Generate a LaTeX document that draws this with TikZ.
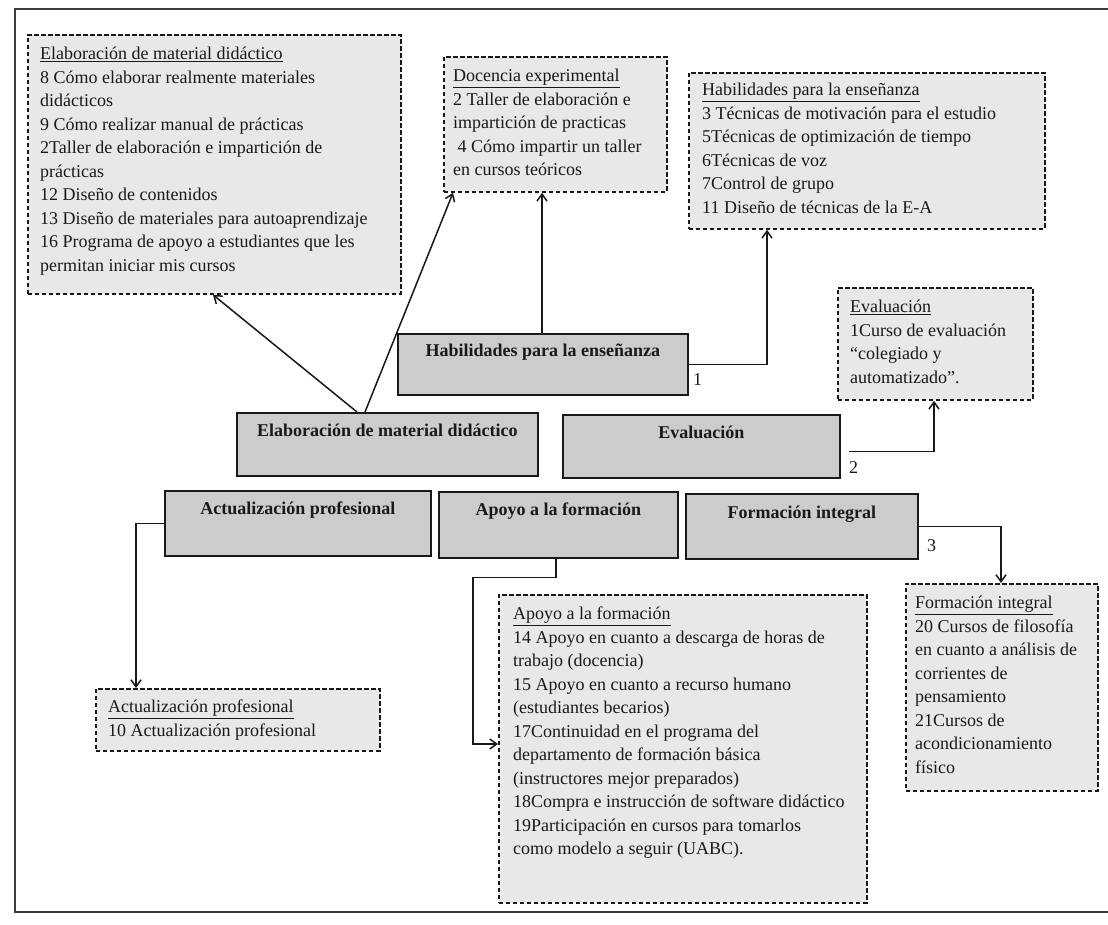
\documentclass[tikz,border=0pt]{standalone}
\usepackage{fontspec}
\setmainfont{Liberation Serif}
\usetikzlibrary{arrows.meta,calc}
\definecolor{boxgray}{RGB}{204,204,204}
\definecolor{dashfill}{RGB}{232,232,232}
\definecolor{ink}{RGB}{25,25,25}
\tikzset{
  graybox/.style={draw=ink, line width=1.7pt, fill=boxgray, anchor=north west, inner sep=0pt},
  dbox/.style={draw=ink, dash pattern=on 4.5pt off 2.5pt, line width=1.8pt, fill=dashfill, anchor=north west, inner sep=0pt},
  listtext/.style={anchor=north west, align=left, inner sep=0pt, text=ink, font=\fontsize{18}{23.5}\selectfont},
  graytext/.style={anchor=north, inner sep=0pt, text=ink, font=\fontsize{18}{22}\selectfont\bfseries},
  conn/.style={line width=1.5pt, draw=ink},
  arr/.style={conn, -{Straight Barb[length=7pt,width=10pt]}},
  num/.style={inner sep=0pt, text=ink, font=\fontsize{18}{22}\selectfont}
}
\begin{document}
\begin{tikzpicture}[x=1pt,y=-1pt]
\useasboundingbox[fill=white] (0,0) rectangle (1108,925);
% outer frame
\draw[line width=2pt, draw=ink!85] (1108,9) -- (15,9) -- (15,912) -- (1108,912);

% dashed list boxes
\node[dbox, minimum width=373pt, minimum height=259pt] (boxA) at (27,34) {};
\node[listtext] (boxAt) at ($(boxA.north west)+(13,13)$) {\underline{Elaboración de material didáctico}\\
8 Cómo elaborar realmente materiales\\
didácticos\\
9 Cómo realizar manual de prácticas\\
2Taller de elaboración e impartición de\\
prácticas\\
12 Diseño de contenidos\\
13 Diseño de materiales para autoaprendizaje\\
16 Programa de apoyo a estudiantes que les\\
permitan iniciar mis cursos};

\node[dbox, minimum width=223pt, minimum height=135pt] (boxB) at (443,56) {};
\node[listtext] (boxBt) at ($(boxB.north west)+(10,13)$) {\underline{Docencia experimental}\\
2 Taller de elaboración e\\
impartición de practicas\\
\ 4 Cómo impartir un taller\\
en cursos teóricos};

\node[dbox, minimum width=356pt, minimum height=156pt] (boxC) at (688,72) {};
\node[listtext] (boxCt) at ($(boxC.north west)+(14,11)$) {\underline{Habilidades para la enseñanza}\\
3 Técnicas de motivación para el estudio\\
5Técnicas de optimización de tiempo\\
6Técnicas de voz\\
7Control de grupo\\
11 Diseño de técnicas de la E-A};

\node[dbox, minimum width=195pt, minimum height=112pt] (boxD) at (837,287) {};
\node[listtext] (boxDt) at ($(boxD.north west)+(13,13)$) {\underline{Evaluación}\\
1Curso de evaluación\\
“colegiado y\\
automatizado”.};

\node[dbox, minimum width=284pt, minimum height=62pt] (actlist) at (95,688) {};
\node[listtext] (actlistt) at ($(actlist.north west)+(13,12)$) {\underline{Actualización profesional}\\
10 Actualización profesional};

\node[dbox, minimum width=368pt, minimum height=308pt] (apoyolist) at (498,594) {};
\node[listtext] (apoyolistt) at ($(apoyolist.north west)+(15,13)$) {\underline{Apoyo a la formación}\\
14 Apoyo en cuanto a descarga de horas de\\
trabajo (docencia)\\
15 Apoyo en cuanto a recurso humano\\
(estudiantes becarios)\\
17Continuidad en el programa del\\
departamento de formación básica\\
(instructores mejor preparados)\\
18Compra e instrucción de software didáctico\\
19Participación en cursos para tomarlos\\
como modelo a seguir (UABC).};

\node[dbox, minimum width=192pt, minimum height=207pt] (formlist) at (905,583) {};
\node[listtext] (formlistt) at ($(formlist.north west)+(10,13)$) {\underline{Formación integral}\\
20 Cursos de filosofía\\
en cuanto a análisis de\\
corrientes de\\
pensamiento\\
21Cursos de\\
acondicionamiento\\
físico};

% gray category boxes
\node[graybox, minimum width=290pt, minimum height=61pt] (hab) at (397,333) {};
\node[graytext] (habt) at ($(hab.north)+(0,11)$) {Habilidades para la enseñanza};
\node[graybox, minimum width=301pt, minimum height=63pt] (elab) at (236,412) {};
\node[graytext] (elabt) at ($(elab.north)+(0,12)$) {Elaboración de material didáctico};
\node[graybox, minimum width=277pt, minimum height=63pt] (eval) at (562,414) {};
\node[graytext] (evalt) at ($(eval.north)+(0,12)$) {Evaluación};
\node[graybox, minimum width=266pt, minimum height=65pt] (actual) at (164,490) {};
\node[graytext] (actualt) at ($(actual.north)+(0,12)$) {Actualización profesional};
\node[graybox, minimum width=239pt, minimum height=66pt] (apoyo) at (438,491) {};
\node[graytext] (apoyot) at ($(apoyo.north)+(0,12)$) {Apoyo a la formación};
\node[graybox, minimum width=232pt, minimum height=65pt] (formint) at (685,493) {};
\node[graytext] (formintt) at ($(formint.north)+(0,13)$) {Formación integral};

% numbers
\node[num] (n1) at ($(hab.south east)+(9,-16)$) {1};
\node[num] (n2) at ($(eval.south east)+(13,-11)$) {2};
\node[num] (n3) at ($(formint.south east)+(13,-14)$) {3};

% connectors
\draw[arr] ($(elab.north west)+(121,0)$) -- ($(boxA.south west)+(186,0)$);
\draw[arr] ($(elab.north west)+(129,0)$) -- ($(boxB.south west)+(10,0)$);
\draw[arr] ($(hab.north west)+(145,0)$) coordinate (h1) -- (h1 |- boxB.south);
\draw[arr] (hab.east) -| ($(boxC.south west)+(79,0)$);
\draw[arr] ($(eval.east)+(8,5)$) -| ($(boxD.south west)+(97,0)$);
\draw[arr] (formint.east) -| ($(formlist.north west)+(96,0)$);
\draw[arr] ($(apoyo.south west)+(118,0)$) -- ++(0,19) -- ++(-83,0) |- ($(apoyolist.north west)+(0,150)$);
\draw[arr] (actual.west) -| ($(actlist.north west)+(41,0)$);
\end{tikzpicture}
\end{document}
